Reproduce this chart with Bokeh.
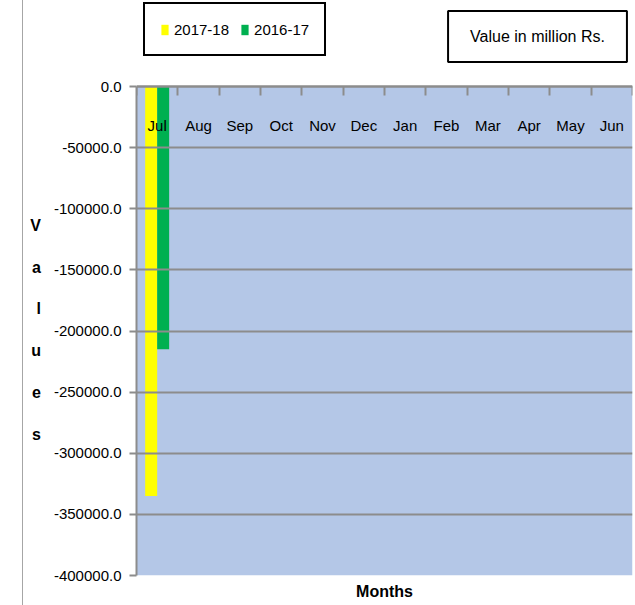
import numpy as np
from bokeh.plotting import figure
from bokeh.models import (ColumnDataSource, Range1d, LinearAxis, FixedTicker,
                          NumeralTickFormatter, Legend, LegendItem, Label,
                          BoxAnnotation, InlineStyleSheet)
from bokeh.core.properties import value
from bokeh.embed import file_html
from bokeh.resources import INLINE

months = ["Jul", "Aug", "Sep", "Oct", "Nov", "Dec", "Jan", "Feb", "Mar", "Apr", "May", "Jun"]
series_names = ["2017-18", "2016-17"]
vals_2017_18 = [-335000.0, None, None, None, None, None, None, None, None, None, None, None]
vals_2016_17 = [-215000.0, None, None, None, None, None, None, None, None, None, None, None]
y_ticks = [0, -50000, -100000, -150000, -200000, -250000, -300000, -350000, -400000]

FONT = "Liberation Sans"
GRID = "#8c8c8c"
PLOT_BG = "#b4c7e7"

W, H = 635, 605
FRAME_LEFT, FRAME_RIGHT = 136, 632
AXIS_TOP_PX, FRAME_BOTTOM = 86, 575   # pixel rows of y=0 and y=min in the picture

ymin, ymax = min(y_ticks), max(y_ticks)
px_per_unit = (FRAME_BOTTOM - AXIS_TOP_PX) / (ymax - ymin)
y_top = ymax + AXIS_TOP_PX / px_per_unit     # frame extends to the top of the page

idx = np.arange(len(months))
def arr(v):
    return np.array([np.nan if a is None else a for a in v], dtype=float)

src = ColumnDataSource(dict(
    x1=idx + 0.355, x2=idx + 0.645,
    top=np.zeros(len(months)),
    b1=arr(vals_2017_18), b2=arr(vals_2016_17),
))
lab = ColumnDataSource(dict(x=idx + 0.5, y=np.zeros(len(months)), t=months))

p = figure(width=W, height=H, output_backend="svg", toolbar_location=None,
           x_range=Range1d(0, len(months)), y_range=Range1d(ymin, y_top),
           min_border_left=FRAME_LEFT, min_border_right=W - FRAME_RIGHT,
           min_border_top=0, min_border_bottom=H - FRAME_BOTTOM,
           background_fill_color="white", border_fill_color="white",
           x_axis_location=None, y_axis_location="left")
p.outline_line_color = None
p.xgrid.visible = False

# blue plot area (data extent)
p.add_layout(BoxAnnotation(left=0, right=len(months), bottom=ymin, top=ymax,
                           fill_color=PLOT_BG, fill_alpha=1, line_color=None,
                           level="underlay"))

p.ygrid.ticker = FixedTicker(ticks=y_ticks)
p.ygrid.grid_line_color = GRID
p.ygrid.grid_line_width = 2
p.ygrid.level = "glyph"

ya = p.yaxis[0]
ya.ticker = FixedTicker(ticks=y_ticks)
ya.bounds = (ymin, ymax)
ya.formatter = NumeralTickFormatter(format="0.0")
ya.major_label_text_font = FONT
ya.major_label_text_font_size = "15px"
ya.major_label_text_color = "black"
ya.axis_line_color = GRID
ya.axis_line_width = 2
ya.major_tick_line_color = GRID
ya.major_tick_line_width = 2
ya.major_tick_out = 7
ya.major_tick_in = 0
ya.minor_tick_line_color = None
ya.major_label_standoff = 8
# stacked letters; two leading blank lines move the block down to the plot-area middle
ya.axis_label = "\n\nV\na\nl\nu\ne\ns"
ya.axis_label_orientation = "horizontal"
ya.axis_label_text_font = FONT
ya.axis_label_text_font_size = "16px"
ya.axis_label_text_font_style = "bold"
ya.axis_label_text_color = "black"
ya.axis_label_text_line_height = 2.47
ya.axis_label_standoff = 10

# zero line with tick marks at category boundaries
top_ax = LinearAxis(ticker=FixedTicker(ticks=list(range(len(months) + 1))),
                    fixed_location=0)
top_ax.major_label_text_font_size = "0px"
top_ax.major_tick_in = 9
top_ax.major_tick_out = 0
top_ax.major_tick_line_color = GRID
top_ax.major_tick_line_width = 2
top_ax.axis_line_color = GRID
top_ax.axis_line_width = 2
top_ax.minor_tick_line_color = None
top_ax.major_label_standoff = 0
p.add_layout(top_ax, "above")

# bottom axis only for the title
bot_ax = LinearAxis(ticker=FixedTicker(ticks=[]))
bot_ax.axis_line_color = None
bot_ax.major_tick_line_color = None
bot_ax.minor_tick_line_color = None
bot_ax.major_label_text_font_size = "0px"
bot_ax.major_label_standoff = 0
bot_ax.major_tick_out = 0
bot_ax.axis_label = "Months"
bot_ax.axis_label_text_font = FONT
bot_ax.axis_label_text_font_size = "16px"
bot_ax.axis_label_text_font_style = "bold"
bot_ax.axis_label_text_color = "black"
bot_ax.axis_label_standoff = 7
p.add_layout(bot_ax, "below")

r1 = p.vbar(x="x1", top="top", bottom="b1", width=0.29, source=src,
            fill_color="#ffff00", line_color=None)
r2 = p.vbar(x="x2", top="top", bottom="b2", width=0.29, source=src,
            fill_color="#00b050", line_color=None)

p.text(x="x", y="y", text="t", source=lab, y_offset=39,
       text_align="center", text_baseline="middle",
       text_font=value(FONT), text_font_size="15px", text_color="black")

legend = Legend(items=[LegendItem(label=series_names[0], renderers=[r1]),
                       LegendItem(label=series_names[1], renderers=[r2])],
                orientation="horizontal", location=(7, 519))
legend.label_text_font = FONT
legend.label_text_font_size = "15px"
legend.label_text_color = "black"
legend.glyph_width = 9
legend.glyph_height = 13
legend.label_height = 20
legend.label_standoff = 5
legend.spacing = 11
legend.padding = 15
legend.margin = 0
legend.border_line_color = "black"
legend.border_line_alpha = 1
legend.border_line_width = 2
legend.background_fill_color = "white"
legend.background_fill_alpha = 1
p.add_layout(legend, "center")

title_lbl = Label(x=401, y=539, x_units="screen", y_units="screen",
                  text="Value in million Rs.", text_font=FONT, text_font_size="16px",
                  text_color="black", text_align="center", text_baseline="middle",
                  border_line_color="black", border_line_width=2,
                  background_fill_color="white", padding=(22, 17))
p.add_layout(title_lbl)

p.stylesheets = [InlineStyleSheet(css=":host::before { content: ''; position: absolute; left: 22px; top: 0px; height: 605px; border-left: 1px solid #a6a6a6; z-index: 10; }")]

open("out.html", "w").write(file_html(p, INLINE))
